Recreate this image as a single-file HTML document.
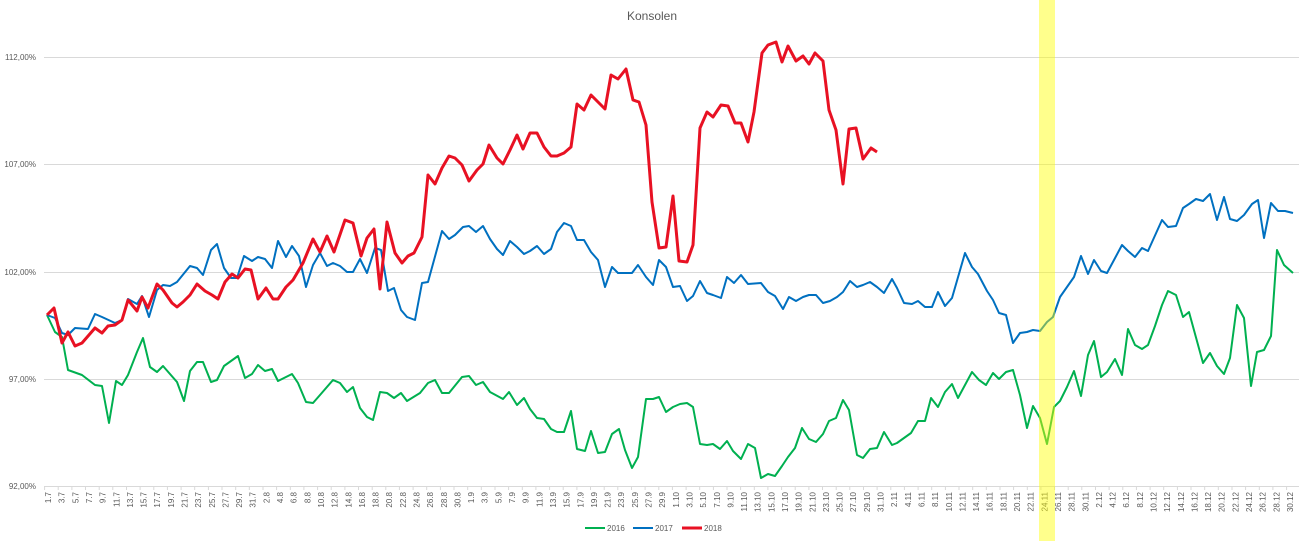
<!DOCTYPE html>
<html><head><meta charset="utf-8"><style>
body{margin:0;background:#fff;}
svg{display:block;font-family:"Liberation Sans",sans-serif;}
</style></head><body>
<svg width="1304" height="541" viewBox="0 0 1304 541" xmlns="http://www.w3.org/2000/svg">
<rect width="1304" height="541" fill="#fff"/>
<text x="652" y="20" text-anchor="middle" font-size="12" fill="#595959">Konsolen</text>
<g stroke="#d9d9d9" stroke-width="1">
<line x1="44" y1="57.5" x2="1299" y2="57.5"/>
<line x1="44" y1="164.5" x2="1299" y2="164.5"/>
<line x1="44" y1="272.5" x2="1299" y2="272.5"/>
<line x1="44" y1="379.5" x2="1299" y2="379.5"/>
<line x1="44" y1="486.5" x2="1299" y2="486.5"/>
</g>
<g font-size="8" fill="#595959" text-anchor="end">
<text x="36" y="60">112,00%</text>
<text x="36" y="167">107,00%</text>
<text x="36" y="275">102,00%</text>
<text x="36" y="382">97,00%</text>
<text x="36" y="489">92,00%</text>
</g>
<g id="ticks" stroke="#d9d9d9" stroke-width="1"></g>
<g id="xl" font-size="8" fill="#595959"></g>
<polyline fill="none" stroke="#00b050" stroke-width="2" stroke-linejoin="round" points="47,315 55,332 62,337 68,370 82,375 95,385 102,386 109,423 116,381 122,385 128,375 137,352 143,338 150,367 157,372 163,366 177,382 184,401 190,371 197,362 203,362 211,382 217,380 224,366 238,356 245,378 252,374 258,365 265,371 272,369 278,381 292,374 298,383 306,402 313,403 320,395 333,380 340,383 347,392 353,387 360,408 367,417 373,420 380,392 387,393 394,398 401,393 407,401 420,393 428,383 435,380 442,393 449,393 462,377 469,376 476,385 483,382 490,392 503,399 509,392 517,405 524,398 530,409 537,418 544,419 551,429 557,432 564,432 571,411 577,449 585,451 591,431 598,453 605,452 612,434 619,429 625,450 632,468 638,457 646,399 653,399 659,397 666,412 673,407 680,404 687,403 693,407 700,444 707,445 713,444 720,449 727,441 733,451 741,459 748,444 755,448 761,478 768,474 775,476 782,466 788,457 795,448 802,428 809,439 816,442 823,434 829,421 836,418 843,400 849,410 857,455 863,458 870,449 877,448 884,432 892,445 897,443 904,438 911,433 918,421 925,421 931,398 938,407 945,392 952,384 958,398 965,385 972,372 979,380 986,385 993,373 999,379 1006,372 1013,370 1020,395 1027,428 1033,406 1040,418 1047,444 1054,407 1060,401 1067,387 1074,371 1081,396 1088,355 1094,341 1101,377 1107,372 1115,359 1122,375 1128,329 1135,345 1142,349 1148,345 1155,326 1162,305 1168,291 1176,295 1183,317 1189,312 1203,363 1210,353 1217,366 1224,374 1230,358 1237,305 1244,318 1251,386 1257,352 1264,350 1271,336 1277,250 1284,265 1293,273"/>
<polyline fill="none" stroke="#0070c0" stroke-width="2" stroke-linejoin="round" points="47,315 55,318 62,333 68,335 75,328 88,329 95,314 102,317 115,323 122,320 128,299 137,304 142,296 149,317 157,290 163,285 170,286 177,282 190,266 197,268 203,275 211,250 217,244 224,268 231,278 237,278 244,256 252,261 258,257 265,259 272,268 278,241 286,257 292,246 299,256 306,287 313,265 320,253 327,266 333,263 340,266 347,272 353,272 360,259 367,273 375,248 381,250 388,291 394,288 401,310 407,317 415,320 422,283 428,282 442,231 449,239 455,235 463,227 469,226 476,232 483,226 490,239 497,249 503,255 510,241 517,247 524,254 530,251 537,246 544,254 551,249 557,232 564,223 571,226 577,240 584,240 591,252 598,260 605,287 612,267 618,273 632,273 638,265 646,277 653,285 659,260 666,267 673,287 680,286 687,301 693,296 700,281 707,293 713,295 721,298 727,277 734,283 741,275 748,284 761,283 768,292 775,296 783,309 789,297 796,301 803,297 809,295 816,295 823,303 830,301 837,297 843,292 850,281 857,287 863,285 870,282 877,287 884,293 892,279 897,288 904,303 912,304 918,301 925,307 932,307 938,292 945,306 952,298 965,253 972,267 978,274 987,291 993,300 999,313 1006,315 1013,343 1020,333 1027,332 1033,330 1040,331 1047,322 1053,317 1060,297 1067,287 1074,277 1081,256 1088,274 1094,260 1101,271 1107,273 1114,260 1122,245 1128,251 1135,257 1142,248 1148,251 1162,220 1168,227 1176,226 1183,208 1189,204 1196,199 1203,201 1210,194 1217,220 1224,197 1230,219 1237,221 1244,215 1252,204 1258,200 1264,238 1271,203 1278,211 1285,211 1293,213"/>
<polyline fill="none" stroke="#e81123" stroke-width="3" stroke-linejoin="round" points="47,315 54,308 62,343 68,332 75,346 82,343 95,328 102,333 108,326 115,325 122,320 128,300 137,311 142,297 148,308 157,284 163,290 172,303 177,307 183,302 190,295 197,284 205,291 212,295 218,299 225,282 232,274 238,278 245,269 251,270 258,299 266,288 273,299 278,299 286,287 293,280 303,263 313,239 320,252 327,236 334,252 345,220 353,223 361,256 367,238 374,229 380,289 387,222 395,253 402,263 408,256 414,253 422,237 428,175 435,184 442,168 449,156 455,158 462,165 469,181 477,170 483,164 489,145 497,158 503,164 510,150 517,135 523,149 530,133 537,133 544,147 551,156 557,156 564,153 571,147 577,104 584,110 591,95 598,102 605,109 611,75 618,79 626,69 633,100 639,102 646,125 652,202 659,248 666,247 673,196 679,261 687,262 693,245 700,128 707,112 713,117 721,105 728,106 735,123 741,123 748,142 754,112 762,53 768,45 776,42 782,62 788,46 796,61 803,56 809,64 815,53 823,61 829,110 836,130 843,184 849,129 856,128 863,159 871,148 877,152"/>
<rect x="1039" y="0" width="16" height="541" fill="#ffff00" opacity="0.45"/>
<g font-size="8" fill="#595959">
<line x1="585" y1="528" x2="605" y2="528" stroke="#00b050" stroke-width="2"/>
<text x="607" y="531">2016</text>
<line x1="633" y1="528" x2="653" y2="528" stroke="#0070c0" stroke-width="2"/>
<text x="655" y="531">2017</text>
<line x1="682" y1="528" x2="702" y2="528" stroke="#e81123" stroke-width="3"/>
<text x="704" y="531">2018</text>
</g>
<script>
(function(){
var ns="http://www.w3.org/2000/svg";
var t=document.getElementById("ticks"),xl=document.getElementById("xl");
var start=44.6,w=6.824;
var months=[[7,31],[8,31],[9,30],[10,31],[11,30],[12,31]];
var i=0;
months.forEach(function(m){
 for(var d=1;d<=m[1];d++){
  if(i%2==0){
   var x=start+i*w;
   var l=document.createElementNS(ns,"line");
   l.setAttribute("x1",x.toFixed(1));l.setAttribute("x2",x.toFixed(1));
   l.setAttribute("y1",486);l.setAttribute("y2",490);t.appendChild(l);
   var cx=x+w/2+3;
   var tx=document.createElementNS(ns,"text");
   tx.setAttribute("transform","translate("+cx.toFixed(1)+",492) rotate(-90)");
   tx.setAttribute("text-anchor","end");
   tx.textContent=d+"."+m[0];
   xl.appendChild(tx);
  }
  i++;
 }
});
})();
</script>
</svg>
</body></html>
